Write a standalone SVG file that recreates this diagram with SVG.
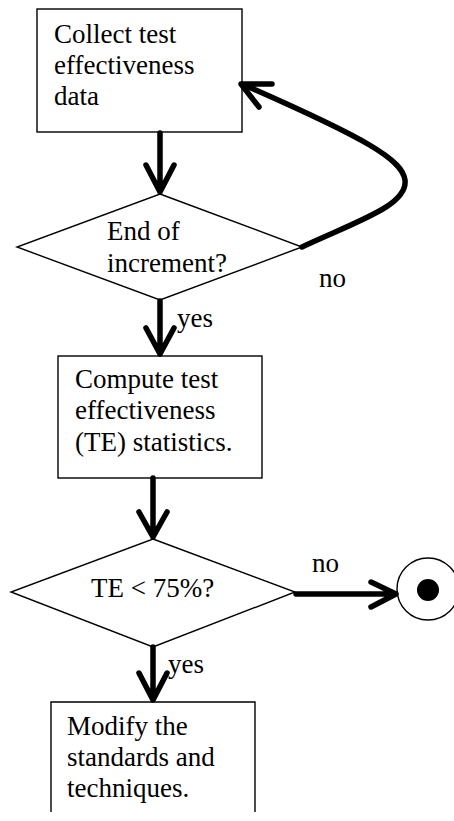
<svg xmlns="http://www.w3.org/2000/svg" width="454" height="821" viewBox="0 0 454 821">
<style>
.box{fill:#fff;stroke:#000;stroke-width:1.4}
.t{font-family:"Liberation Serif","Times New Roman",serif;font-size:27px;fill:#000}
.c{fill:none;stroke:#000;stroke-width:5.5;stroke-linecap:round;stroke-linejoin:round}
</style>
<rect width="454" height="821" fill="#fff"/>
<g id="node-collect">
<rect class="box" x="37" y="9" width="205" height="123"/>
<text class="t" x="54" y="43">Collect test</text>
<text class="t" x="54" y="74">effectiveness</text>
<text class="t" x="54" y="105">data</text>
</g>
<g id="node-end-increment">
<polygon class="box" points="160,194 302,247 160,300 17,247"/>
<text class="t" x="107" y="240">End of</text>
<text class="t" x="107" y="272">increment?</text>
</g>
<g id="node-compute">
<rect class="box" x="58" y="356" width="204" height="122"/>
<text class="t" x="75" y="388">Compute test</text>
<text class="t" x="75" y="419">effectiveness</text>
<text class="t" x="75" y="451">(TE) statistics.</text>
</g>
<g id="node-te">
<polygon class="box" points="153,539 295,592 153,647 11,592"/>
<text class="t" x="91" y="597">TE &lt; 75%?</text>
</g>
<g id="node-modify">
<path class="box" d="M51,812 V702 H255 V812"/>
<text class="t" x="67" y="735">Modify the</text>
<text class="t" x="67" y="766">standards and</text>
<text class="t" x="67" y="797">techniques.</text>
</g>
<g id="node-final">
<circle cx="428" cy="589" r="31" fill="#fff" stroke="#000" stroke-width="1.4"/>
<circle cx="428" cy="590" r="11" fill="#000"/>
</g>
<g id="connectors">
<path class="c" d="M160,133 V192 M146,165 L160,192 L174,165"/>
<path class="c" d="M302,247 C360,220 408,205 405,180 C402,160 370,140 242,84 M272,84 L241,84 L259,107"/>
<path class="c" d="M160,301 V354 M146,328 L160,354 L174,328"/>
<path class="c" d="M153,478 V537 M139,512 L153,537 L167,512"/>
<path class="c" d="M153,647 V700 M139,673 L153,700 L167,673"/>
<path class="c" d="M296,594 H396 M371,582 L396,594 L371,607"/>
<text class="t" x="319" y="287">no</text>
<text class="t" x="177" y="327">yes</text>
<text class="t" x="312" y="572">no</text>
<text class="t" x="168" y="673">yes</text>
</g>
</svg>
